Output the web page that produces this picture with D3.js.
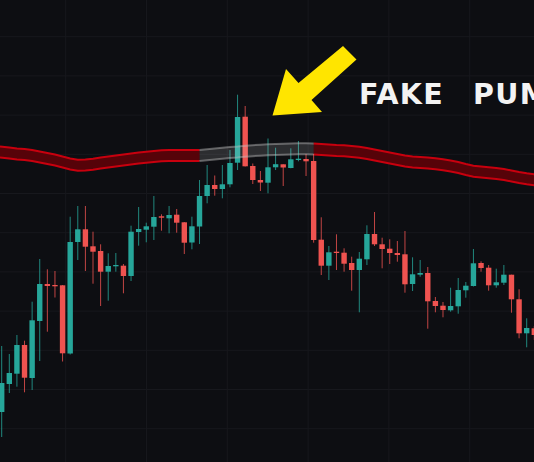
<!DOCTYPE html>
<html>
<head>
<meta charset="utf-8">
<script src="https://cdn.jsdelivr.net/npm/d3@7"></script>
<style>
  html, body { margin: 0; padding: 0; background: #0d0e12; overflow: hidden; }
</style>
</head>
<body>
<svg id="chart" width="534" height="462"></svg>
<script>
// Candle OHLC series (one entry per bar, oldest first)
const openP  = [25880,26160,26263,26550,26220,26790,27160,27150,27147,26465,27580,27707,27537,27490,27283,27337,27343,27240,27680,27703,27733,27837,27817,27853,27777,27575,27735,28040,28150,28110,28157,28373,28833,28340,28200,28173,28327,28357,28320,28400,28410,28390,27603,27343,27483,27473,27370,27300,27407,27660,27557,27513,27470,27457,27160,27253,27270,26990,26943,26897,26937,27097,27140,27370,27323,27147,27173,27253,27007,26667,26717];
const highP  = [26540,26460,26650,26593,26983,27410,27307,27290,27150,27833,27940,27940,27683,27557,27467,27470,27360,27743,27930,27773,28040,27857,27940,27910,27780,27833,28200,28350,28245,28350,28500,29053,28940,28365,28290,28615,28523,28357,28517,28590,28460,28460,27827,27540,27657,27517,27433,27480,27747,27880,27623,27607,27590,27690,27427,27400,27330,27030,26980,27123,27220,27180,27510,27387,27350,27313,27350,27253,27107,26817,26740];
const lowP   = [25630,26070,26133,26077,26100,26390,26683,27025,26385,26455,27400,27290,27163,26940,26993,27283,27067,27190,27543,27577,27600,27693,27667,27673,27460,27507,27560,27967,28043,28017,28127,28300,28335,28160,28090,28067,28300,28140,28317,28387,28240,27573,27250,27200,27300,27283,27093,26877,27350,27540,27317,27360,27383,27073,27090,27233,26713,26877,26827,26883,26863,27023,27135,27283,27093,27123,27150,26873,26617,26527,26600];
const closeP = [26170,26270,26550,26223,26797,27160,27140,27140,26467,27580,27707,27533,27483,27283,27340,27350,27240,27683,27710,27737,27830,27823,27850,27773,27573,27737,28040,28150,28110,28157,28370,28830,28337,28200,28175,28327,28358,28325,28407,28413,28387,27600,27343,27477,27470,27363,27300,27413,27660,27557,27510,27470,27450,27157,27257,27270,26987,26940,26900,26940,27100,27143,27367,27320,27147,27177,27253,27007,26667,26720,26650];

// Moving-average envelope (upper / lower edge per bar)
const bandUpper = [28535,28525,28515,28510,28500,28485,28470,28455,28435,28415,28403,28405,28413,28425,28435,28445,28455,28465,28475,28483,28490,28497,28500,28500,28500,28500,28500,28507,28515,28523,28530,28535,28543,28548,28553,28557,28560,28563,28565,28567,28567,28565,28560,28555,28550,28547,28540,28533,28520,28505,28490,28475,28460,28445,28435,28430,28425,28417,28407,28395,28380,28360,28343,28335,28327,28320,28310,28295,28280,28267,28257];
const bandLower = [28425,28415,28405,28400,28390,28375,28360,28345,28325,28305,28293,28295,28303,28315,28325,28335,28345,28355,28365,28373,28380,28387,28390,28390,28390,28390,28390,28397,28405,28413,28420,28425,28433,28438,28443,28447,28450,28453,28455,28457,28457,28455,28450,28445,28440,28437,28430,28423,28410,28395,28380,28365,28350,28335,28325,28320,28315,28307,28297,28285,28270,28250,28233,28225,28217,28210,28200,28185,28170,28157,28147];

// Bars where price pushed through the envelope
const pumpStart = 26, pumpEnd = 41;

// Grid levels
const priceGrid = [29633,29241,28849,28457,28065,27673,27281,26889,26497,26105,25713];
const timeGrid  = [8.41,19.03,29.65,40.27,50.89,61.51];

const headline = ["FAKE", "PUMP"];

const W = 534, H = 462;
const svg = d3.select("#chart");
const x = d3.scaleLinear().domain([0, 70]).range([1.7, 534.3]);
const y = d3.scaleLinear().domain([30000, 25380]).range([0, H]);

svg.append("rect").attr("width", W).attr("height", H).attr("fill", "#0d0e12");

// grid
const grid = svg.append("g").attr("stroke", "#17181d").attr("stroke-width", 1);
grid.selectAll("line.h").data(priceGrid).join("line").attr("class", "h")
  .attr("x1", 0).attr("x2", W).attr("y1", d => y(d)).attr("y2", d => y(d));
grid.selectAll("line.v").data(timeGrid).join("line").attr("class", "v")
  .attr("y1", 0).attr("y2", H).attr("x1", d => x(d)).attr("x2", d => x(d));

const idx = d3.range(openP.length);
const bx = i => (i === 0 ? 0 : x(i));
const area = d3.area().x(bx).y0(i => y(bandUpper[i])).y1(i => y(bandLower[i]));
const upLine = d3.line().x(bx).y(i => y(bandUpper[i]));
const loLine = d3.line().x(bx).y(i => y(bandLower[i]));

function drawBand(ids, fill, stroke, sw) {
  const g = svg.append("g");
  g.append("path").attr("d", area(ids)).attr("fill", fill);
  g.append("path").attr("d", upLine(ids)).attr("fill", "none").attr("stroke", stroke).attr("stroke-width", sw);
  g.append("path").attr("d", loLine(ids)).attr("fill", "none").attr("stroke", stroke).attr("stroke-width", sw);
}
drawBand(idx.filter(i => i <= pumpStart), "#560309", "#c8000e", 2);
drawBand(idx.filter(i => i >= pumpEnd), "#560309", "#c8000e", 2);

// candles
const up = "#26a69a", down = "#ef5350";
const bodyW = 5.4;
const candles = svg.append("g").selectAll("g").data(idx).join("g");
candles.append("line")
  .attr("x1", i => x(i)).attr("x2", i => x(i))
  .attr("y1", i => y(highP[i])).attr("y2", i => y(lowP[i]))
  .attr("stroke", i => closeP[i] >= openP[i] ? up : down)
  .attr("stroke-opacity", 0.8)
  .attr("stroke-width", 1);
candles.append("rect")
  .attr("x", i => x(i) - bodyW / 2)
  .attr("width", bodyW)
  .attr("y", i => y(Math.max(openP[i], closeP[i])))
  .attr("height", i => Math.max(1.3, Math.abs(y(openP[i]) - y(closeP[i]))))
  .attr("fill", i => closeP[i] >= openP[i] ? up : down);

// translucent envelope over the pump bars
drawBand(idx.filter(i => i >= pumpStart && i <= pumpEnd), "rgba(255,255,255,0.13)", "rgba(190,190,190,0.45)", 2);

// arrow
const arrowPts = [[272.5,115.5],[286,69],[298.5,83],[343,46],[356.5,59.5],[311.5,100],[322,112]];
svg.append("polygon").attr("points", arrowPts.map(p => p.join(",")).join(" ")).attr("fill", "#ffe500");

// headline
const t = svg.append("text")
  .attr("y", 104)
  .attr("font-family", "DejaVu Sans")
  .attr("font-weight", "bold")
  .attr("font-size", 28.5)
  .attr("fill", "#f3f3f3");
t.append("tspan").attr("x", 359).attr("letter-spacing", 1.3).text(headline[0]);
t.append("tspan").attr("x", 473).attr("letter-spacing", 1.3).text(headline[1]);
</script>
</body>
</html>
